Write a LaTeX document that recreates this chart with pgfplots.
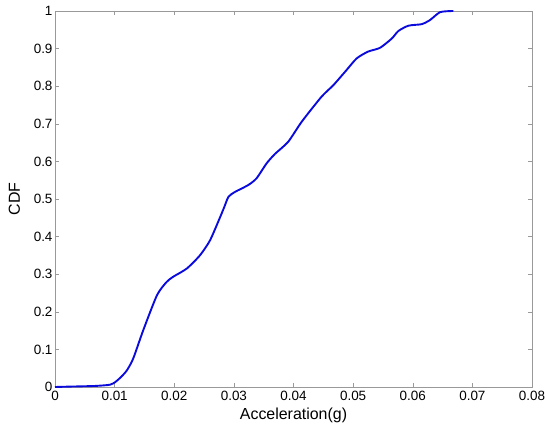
\documentclass[border=0pt]{standalone}
\usepackage{fontspec}
\setmainfont{Liberation Sans}
\usepackage{pgfplots}
\pgfplotsset{compat=1.18}
\begin{document}
\begin{tikzpicture}
\begin{axis}[
  scale only axis,
  width=477bp, height=376bp,
  xmin=0, xmax=0.08, ymin=0, ymax=1,
  xtick={0,0.01,...,0.08}, ytick={0,0.1,...,1},
  scaled x ticks=false,
  /pgf/number format/assume math mode=true,
  /pgf/number format/fixed,
  /pgf/number format/precision=2,
  tick align=inside,
  major tick length=4bp,
  axis line style={draw=gray!80},
  tick style={gray!80, line width=0.5pt},
  tick label style={font=\fontsize{13.5}{15}\selectfont},
  xticklabel style={yshift=-1bp},
  yticklabel style={xshift=1bp},
  xlabel={Acceleration(g)},
  ylabel={CDF},
  label style={font=\fontsize{16}{18}\selectfont},
  xlabel style={yshift=0bp},
  ylabel style={yshift=7bp},
]
\addplot[color={rgb,255:red,10;green,10;blue,220}, line width=1.9pt, smooth, tension=0.4] coordinates {
(0,0) (0.0023,0.001) (0.0050,0.002) (0.0070,0.003) (0.0092,0.006)
(0.0101,0.013) (0.0109,0.024) (0.0120,0.043) (0.0131,0.075)
(0.0148,0.151) (0.0171,0.244) (0.0187,0.279) (0.0198,0.293)
(0.0221,0.315) (0.0243,0.350) (0.0260,0.390) (0.0277,0.452)
(0.0284,0.479) (0.0291,0.506) (0.0302,0.519) (0.0324,0.537)
(0.0338,0.555) (0.0355,0.595) (0.0369,0.620) (0.0391,0.652)
(0.0414,0.706) (0.0447,0.772) (0.0467,0.803) (0.0489,0.843)
(0.0506,0.874) (0.0525,0.892) (0.0545,0.902) (0.0565,0.927)
(0.0576,0.947) (0.0593,0.961) (0.0615,0.965) (0.0629,0.976)
(0.0646,0.997) (0.0668,1.0)
};
\end{axis}
\path[use as bounding box] (-55bp,-47bp) rectangle (495bp,387bp);
\end{tikzpicture}
\end{document}
